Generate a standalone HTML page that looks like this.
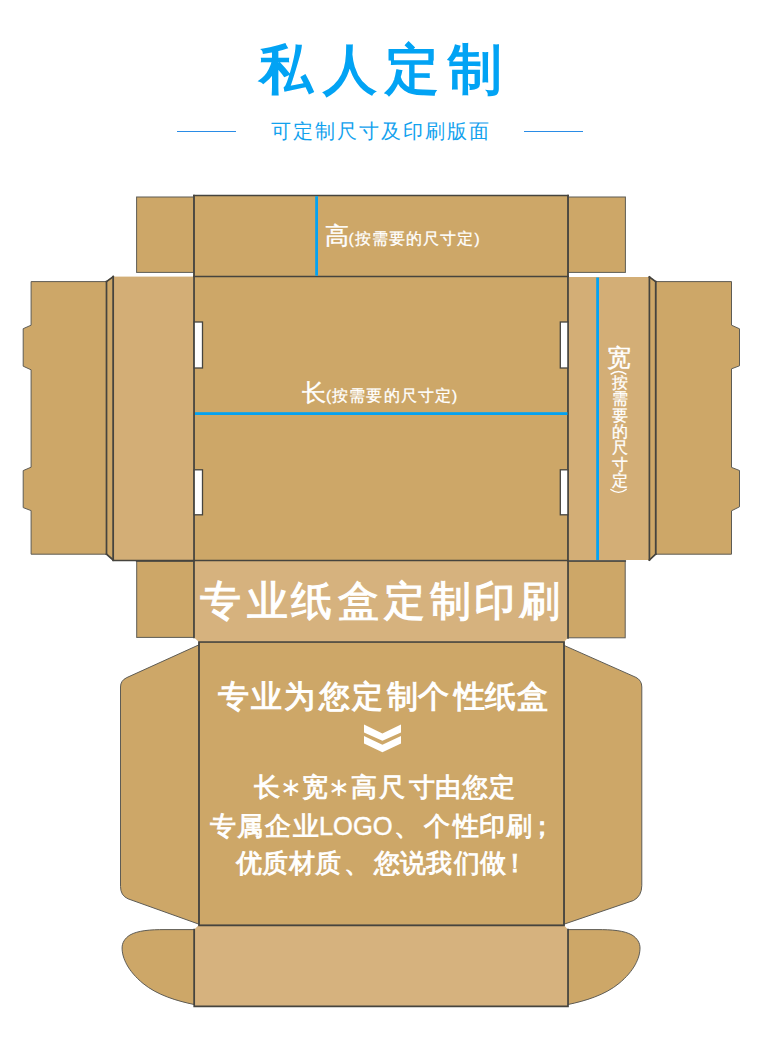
<!DOCTYPE html>
<html><head><meta charset="utf-8">
<style>
html,body{margin:0;padding:0;background:#fff;}
body{width:760px;height:1064px;position:relative;overflow:hidden;font-family:"Liberation Sans",sans-serif;}
svg{position:absolute;left:0;top:0;}
.t{position:absolute;white-space:nowrap;line-height:1;color:#fff;}
</style></head><body>
<svg width="760" height="1064" viewBox="0 0 760 1064">
<g fill="#cda768" stroke="#5e5c55" stroke-width="1" stroke-linejoin="miter">
  <rect x="136.6" y="197" width="57.4" height="75.4"/>
  <rect x="568" y="197" width="57.4" height="75.4"/>
  <rect x="194" y="195.5" width="374" height="81"/>
  <polygon points="106.5,281.6 31.1,281.6 31.1,325.2 23.2,328.7 23.2,366.2 31.1,369.8 31.1,467.2 23.2,470.6 23.2,507.6 31.1,510.6 31.1,554.2 106.5,554.2"/>
  <polygon points="655.7,281.6 731.5,281.6 731.5,325.2 739.5,328.8 739.5,365.8 731.5,368.8 731.5,467.4 739.5,470.5 739.5,506.8 731.5,510.8 731.5,554.2 655.7,554.2"/>
  <polygon points="106.5,281.6 113.2,276.6 113.2,560 106.5,554.2"/>
  <polygon points="655.7,281.6 649.4,277 649.4,560 655.7,554.2"/>
  <rect x="136.7" y="561" width="57.3" height="76.4"/>
  <rect x="568" y="561" width="57.2" height="76.8"/>
  <rect x="194" y="276.5" width="374" height="284"/>
  <path d="M199,644.8 L126.8,677.6 Q120.5,680.6 120.5,687 L120.5,886.5 Q120.5,895.5 128,898.8 L199,924.2 Z"/>
  <path d="M564,645.4 L636,677.4 Q641.8,680.4 641.8,687 L641.8,885.5 Q641.8,896 633.5,900.5 L564,924.2 Z"/>
  <rect x="199" y="642" width="365" height="283.3"/>
  <path d="M194.2,929.6 L165,929.6 C150,929.6 138,930.5 130,935 C124.5,938.5 122.1,943 122.1,948 C122.1,958 128,971 143,983.4 C157,995 177,1001 194.2,1004.5 Z"/>
  <path d="M568,929.6 L597,929.6 C612,929.6 624,930.5 632,935 C637.5,938.5 640,943 640,948 C640,958 634,971 619,983.4 C605,995 585,1001 568,1004.5 Z"/>
</g>
<g fill="#d3ae76">
  <rect x="113.2" y="276.6" width="80.8" height="283.4"/>
  <rect x="568" y="277" width="81.4" height="283"/>
</g>
<g fill="#d6b27e">
  <polygon points="194,561 568,561 568,637.8 564,642 199,642 194,637.4"/>
  <polygon points="198.6,925.3 564,925.3 568,929.6 568,1006.3 194.2,1006.3 194.2,929.6"/>
</g>
<!-- fold lines -->
<g fill="none" stroke="#46443e" stroke-width="1.7" stroke-linecap="square">
  <path d="M194,195.5 H568 M194,276.5 H568"/>
  <path d="M106.5,281.6 V554.2 M113.2,276.6 V560 M194,195.5 V637.4 M568,195.5 V637.8 M649.4,277 V560 M655.7,281.6 V554.2"/>
  <path d="M106.5,281.6 L113.2,276.6 M106.5,554.2 L113.2,560 M655.7,281.6 L649.4,277 M655.7,554.2 L649.4,560"/>
  <path d="M113.2,560.5 H568 M136.7,561 H194 M568,561 H625.2"/>
  <path d="M199,642 H564 M199,642 V925.3 M564,642 V925.3 M199,925.3 H564"/>
  <path d="M194.2,929.6 V1006.3 H568 V929.6"/>
</g>
<!-- slots -->
<g fill="#fff" stroke="#46443e" stroke-width="1.3">
  <rect x="194.2" y="322" width="8.3" height="46"/>
  <rect x="194.2" y="469.8" width="8.3" height="45"/>
  <rect x="560.3" y="322" width="7.6" height="46"/>
  <rect x="560.3" y="469.8" width="7.6" height="45"/>
</g>
<!-- blue lines -->
<g fill="#03a2f2">
  <rect x="315.2" y="196.2" width="2.8" height="79.5"/>
  <rect x="195" y="412.2" width="372.5" height="2.8"/>
  <rect x="596.2" y="277.5" width="2.8" height="282.5"/>
</g>
<g fill="none" stroke="#fff" stroke-width="1.4">
  <path d="M610.6,374.4 Q618.5,368.6 626.4,374.4"/>
  <path d="M610.4,489.3 Q618.5,495.4 626.6,489.3"/>
</g>
<g fill="#fff">
  <polygon points="364,724.6 382.4,733.5 401,724.6 401,732.5 382.4,740.8 364,732.5"/>
  <polygon points="364,736 382.4,744.7 401,736 401,743.6 382.4,752.2 364,743.6"/>
</g>
<g fill="#2a8ce6">
  <rect x="177" y="131" width="59" height="1"/>
  <rect x="524" y="131" width="59" height="1"/>
</g>
</svg>
<div class="t" style="left:258.7px;top:42.5px;font-size:53.6px;font-weight:bold;color:#02a3f4;letter-spacing:10.1px;">私人<span style="margin-left:-1.7px">定</span><span style="margin-left:-1.8px">制</span></div>
<div class="t" style="left:271px;top:122px;font-size:19.9px;color:#12a2ee;letter-spacing:2.05px;">可定制尺寸及印刷版面</div>
<div class="t" style="left:324.5px;top:224px;font-size:23.8px;-webkit-text-stroke:0.45px #fff;">高<span style="font-size:15.5px;letter-spacing:1.1px;-webkit-text-stroke:0.3px #fff;">(按需要的尺寸定)</span></div>
<div class="t" style="left:302px;top:380.6px;font-size:23.8px;-webkit-text-stroke:0.45px #fff;">长<span style="font-size:15.5px;letter-spacing:1.1px;-webkit-text-stroke:0.3px #fff;">(按需要的尺寸定)</span></div>
<div class="t" style="left:607px;top:345.6px;font-size:23.8px;-webkit-text-stroke:0.45px #fff;">宽</div>
<div class="t" style="left:611px;top:375px;font-size:15.5px;line-height:16.33px;width:17px;text-align:center;white-space:normal;-webkit-text-stroke:0.3px #fff;">按<br>需<br>要<br>的<br>尺<br>寸<br>定</div>
<div class="t" style="left:200.0px;top:580.8px;font-size:41px;-webkit-text-stroke:1.15px #fff;">专</div>
<div class="t" style="left:246.7px;top:580.8px;font-size:41px;-webkit-text-stroke:1.15px #fff;">业</div>
<div class="t" style="left:290.9px;top:580.8px;font-size:41px;-webkit-text-stroke:1.15px #fff;">纸</div>
<div class="t" style="left:337.7px;top:580.8px;font-size:41px;-webkit-text-stroke:1.15px #fff;">盒</div>
<div class="t" style="left:383.5px;top:580.8px;font-size:41px;-webkit-text-stroke:1.15px #fff;">定</div>
<div class="t" style="left:429.6px;top:580.8px;font-size:41px;-webkit-text-stroke:1.15px #fff;">制</div>
<div class="t" style="left:474.3px;top:580.8px;font-size:41px;-webkit-text-stroke:1.15px #fff;">印</div>
<div class="t" style="left:519.0px;top:580.8px;font-size:41px;-webkit-text-stroke:1.15px #fff;">刷</div>
<div class="t" style="left:218.3px;top:680.8px;font-size:31.3px;-webkit-text-stroke:1.1px #fff;">专</div>
<div class="t" style="left:251.4px;top:680.8px;font-size:31.3px;-webkit-text-stroke:1.1px #fff;">业</div>
<div class="t" style="left:283.6px;top:680.8px;font-size:31.3px;-webkit-text-stroke:1.1px #fff;">为</div>
<div class="t" style="left:318.8px;top:680.8px;font-size:31.3px;-webkit-text-stroke:1.1px #fff;">您</div>
<div class="t" style="left:351.6px;top:680.8px;font-size:31.3px;-webkit-text-stroke:1.1px #fff;">定</div>
<div class="t" style="left:387.3px;top:680.8px;font-size:31.3px;-webkit-text-stroke:1.1px #fff;">制</div>
<div class="t" style="left:418.2px;top:680.8px;font-size:31.3px;-webkit-text-stroke:1.1px #fff;">个</div>
<div class="t" style="left:453.9px;top:680.8px;font-size:31.3px;-webkit-text-stroke:1.1px #fff;">性</div>
<div class="t" style="left:484.7px;top:680.8px;font-size:31.3px;-webkit-text-stroke:1.1px #fff;">纸</div>
<div class="t" style="left:516.6px;top:680.8px;font-size:31.3px;-webkit-text-stroke:1.1px #fff;">盒</div>
<div class="t" style="left:254.3px;top:775.2px;font-size:25.5px;-webkit-text-stroke:0.9px #fff;">长</div>
<div class="t" style="left:280.0px;top:775.2px;font-size:25.5px;-webkit-text-stroke:0.9px #fff;-webkit-text-stroke:0px #fff;">∗</div>
<div class="t" style="left:301.5px;top:775.2px;font-size:25.5px;-webkit-text-stroke:0.9px #fff;">宽</div>
<div class="t" style="left:327.9px;top:775.2px;font-size:25.5px;-webkit-text-stroke:0.9px #fff;-webkit-text-stroke:0px #fff;">∗</div>
<div class="t" style="left:351.0px;top:775.2px;font-size:25.5px;-webkit-text-stroke:0.9px #fff;">高</div>
<div class="t" style="left:378.7px;top:775.2px;font-size:25.5px;-webkit-text-stroke:0.9px #fff;">尺</div>
<div class="t" style="left:408.9px;top:775.2px;font-size:25.5px;-webkit-text-stroke:0.9px #fff;">寸</div>
<div class="t" style="left:434.5px;top:775.2px;font-size:25.5px;-webkit-text-stroke:0.9px #fff;">由</div>
<div class="t" style="left:461.6px;top:775.2px;font-size:25.5px;-webkit-text-stroke:0.9px #fff;">您</div>
<div class="t" style="left:488.8px;top:775.2px;font-size:25.5px;-webkit-text-stroke:0.9px #fff;">定</div>
<div class="t" style="left:209.7px;top:814.2px;font-size:25.5px;-webkit-text-stroke:0.9px #fff;">专</div>
<div class="t" style="left:237.0px;top:814.2px;font-size:25.5px;-webkit-text-stroke:0.9px #fff;">属</div>
<div class="t" style="left:264.7px;top:814.2px;font-size:25.5px;-webkit-text-stroke:0.9px #fff;">企</div>
<div class="t" style="left:292.6px;top:814.2px;font-size:25.5px;-webkit-text-stroke:0.9px #fff;">业</div>
<div class="t" style="left:318.9px;top:814.2px;font-size:25.5px;-webkit-text-stroke:0.9px #fff;-webkit-text-stroke:0.45px #fff;">LOGO</div>
<div class="t" style="left:394.0px;top:814.2px;font-size:25.5px;-webkit-text-stroke:0.9px #fff;">、</div>
<div class="t" style="left:423.9px;top:814.2px;font-size:25.5px;-webkit-text-stroke:0.9px #fff;">个</div>
<div class="t" style="left:452.8px;top:814.2px;font-size:25.5px;-webkit-text-stroke:0.9px #fff;">性</div>
<div class="t" style="left:479.0px;top:814.2px;font-size:25.5px;-webkit-text-stroke:0.9px #fff;">印</div>
<div class="t" style="left:506.3px;top:814.2px;font-size:25.5px;-webkit-text-stroke:0.9px #fff;">刷</div>
<div class="t" style="left:529.0px;top:814.2px;font-size:25.5px;-webkit-text-stroke:0.9px #fff;">；</div>
<div class="t" style="left:235.9px;top:850.6px;font-size:25.5px;-webkit-text-stroke:0.9px #fff;">优</div>
<div class="t" style="left:261.6px;top:850.6px;font-size:25.5px;-webkit-text-stroke:0.9px #fff;">质</div>
<div class="t" style="left:289.2px;top:850.6px;font-size:25.5px;-webkit-text-stroke:0.9px #fff;">材</div>
<div class="t" style="left:314.9px;top:850.6px;font-size:25.5px;-webkit-text-stroke:0.9px #fff;">质</div>
<div class="t" style="left:343.5px;top:850.6px;font-size:25.5px;-webkit-text-stroke:0.9px #fff;">、</div>
<div class="t" style="left:374.0px;top:850.6px;font-size:25.5px;-webkit-text-stroke:0.9px #fff;">您</div>
<div class="t" style="left:399.6px;top:850.6px;font-size:25.5px;-webkit-text-stroke:0.9px #fff;">说</div>
<div class="t" style="left:426.2px;top:850.6px;font-size:25.5px;-webkit-text-stroke:0.9px #fff;">我</div>
<div class="t" style="left:453.9px;top:850.6px;font-size:25.5px;-webkit-text-stroke:0.9px #fff;">们</div>
<div class="t" style="left:479.5px;top:850.6px;font-size:25.5px;-webkit-text-stroke:0.9px #fff;">做</div>
<div class="t" style="left:502.0px;top:850.6px;font-size:25.5px;-webkit-text-stroke:0.9px #fff;">！</div>
</body></html>
